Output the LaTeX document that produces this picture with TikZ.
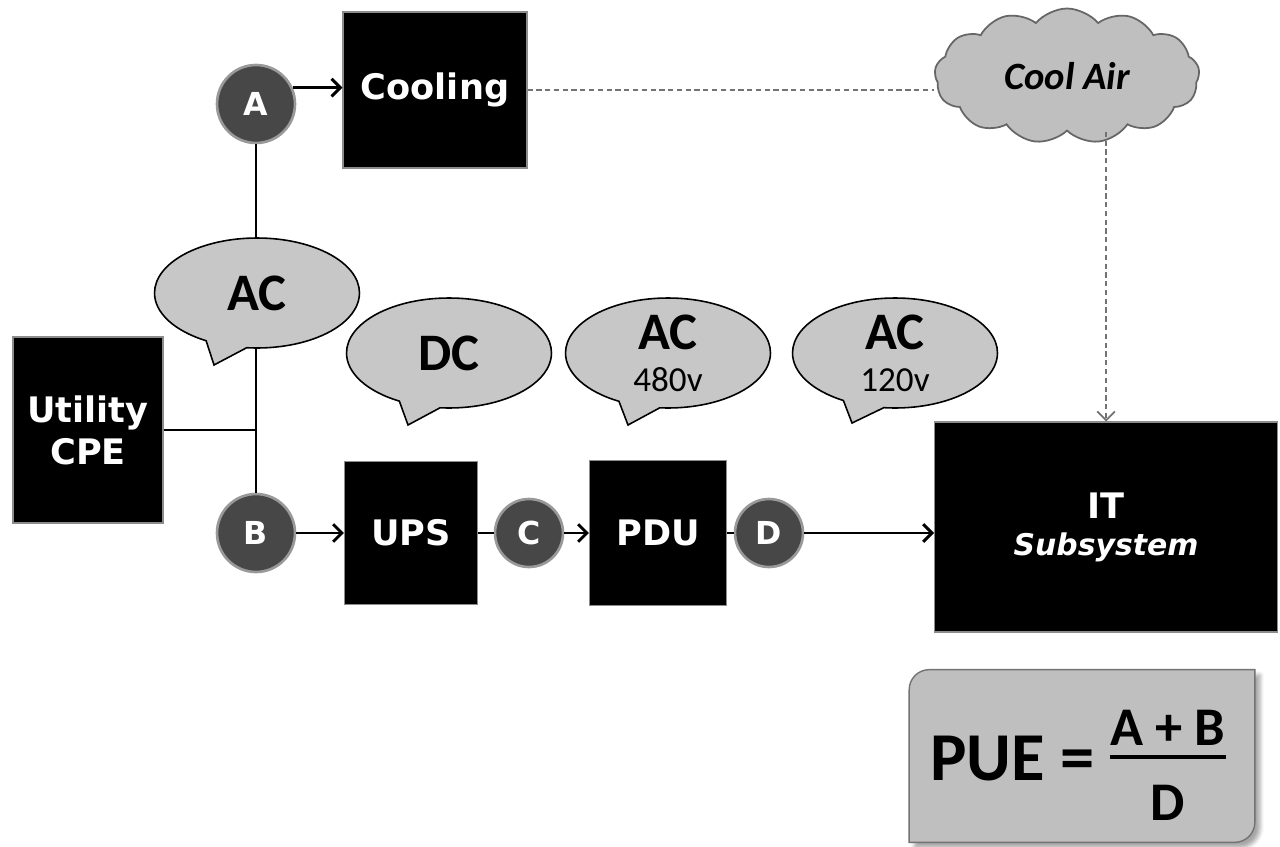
\documentclass[tikz,border=0pt]{standalone}
\usepackage{fontspec}
\setmainfont{DejaVu Sans}
\newfontfamily\calibri{Carlito}
\newcommand\voltfont{\mdseries\fontsize{20}{24}\selectfont}
\usetikzlibrary{shapes.geometric,shapes.callouts,shapes.symbols}
\usetikzlibrary{arrows.meta,calc,backgrounds,shadows.blur}

\begin{document}
\begin{tikzpicture}[x=0.02cm, y=0.02cm,
    >={Straight Barb[length=5pt, width=10pt]},
    block/.style = {fill=black, draw=black!45, line width=0.6pt, text=white,
        font=\bfseries\fontsize{20}{24}\selectfont, align=center, inner sep=0pt},
    tap/.style = {circle, fill=black!72, draw=black!40, line width=1.5pt, text=white,
        font=\bfseries\fontsize{18}{18}\selectfont, inner sep=0pt, minimum size=1.56cm},
    bubble/.style = {ellipse callout, callout pointer arc=24, fill=black!22, draw=black,
        line width=0.9pt, font=\calibri\bfseries\fontsize{30}{30}\selectfont,
        align=center, inner sep=0pt, minimum width=4.1cm, minimum height=2.2cm},
    wire/.style = {line width=1.7pt},
    airline/.style = {densely dashed, black!55, line width=1pt}
    ]
    \useasboundingbox (0,0) rectangle (1280,846);

    % boxes
    \node[block, minimum width=3.68cm, minimum height=3.12cm] (cooling) at (435,756) {Cooling};
    \node[block, minimum width=3cm, minimum height=3.72cm] (cpe) at (88,416) {Utility\\CPE};
    \node[block, minimum width=2.66cm, minimum height=2.86cm] (ups) at (411,313) {UPS};
    \node[block, minimum width=2.74cm, minimum height=2.9cm] (pdu) at (658,313) {PDU};
    \node[block, minimum width=6.86cm, minimum height=4.2cm] (it) at (1106,319)
        {IT\\[-3pt]{\itshape\fontsize{17}{20}\selectfont Subsystem}};

    % metering points
    \node[tap] (A) at (256,742) {A};
    \node[tap] (B) at (256,313) {B};
    \node[tap, minimum size=1.36cm] (C) at (529,313) {C};
    \node[tap, minimum size=1.36cm] (D) at (769,313) {D};

    % power feed
    \draw[wire] (A) -- (B);
    \draw[wire] (cpe.east) -- (cpe.east -| B);
    \draw[wire,->] (A.24) -- (A.24 -| cooling.west);
    \draw[wire,->] (B) -- (ups);
    \draw[wire] (ups) -- (C);
    \draw[wire,->] (C) -- (pdu);
    \draw[wire] (pdu) -- (D);
    \draw[wire,->] (D) -- (D -| it.west);

    % current type
    \node[bubble, callout absolute pointer={(214,481)}] (ac) at (257,553) {AC};
    \node[bubble, callout absolute pointer={(408,421)}] (dc) at (449,493) {DC};
    \node[bubble, callout absolute pointer={(628,421)}] (ac480) at (668,493)
        {AC\\[-6pt]{\voltfont 480v}};
    \node[bubble, callout absolute pointer={(852,423)}] (ac120) at (895,493)
        {AC\\[-6pt]{\voltfont 120v}};

    % cooling air
    \node[cloud, cloud puffs=13, cloud puff arc=100, aspect=2.2, fill=black!25, draw=black!60,
        line width=1pt, minimum width=5.3cm, minimum height=2.7cm,
        font=\calibri\bfseries\itshape\fontsize{22}{22}\selectfont] (air) at (1067,770) {Cool Air};
    \draw[airline] (cooling.east) -- (cooling.east -| air.west);
    \draw[airline,->] (air.south -| it.north) -- (it.north);

    % PUE formula
    \node[minimum width=6.9cm, minimum height=3.44cm, inner sep=0pt] (pue) at (1082,90) {};
    \begin{scope}[on background layer]
        \filldraw[fill=black!25, draw=black!55, line width=0.8pt,
            blur shadow={shadow xshift=3pt, shadow yshift=-3pt, shadow opacity=35}]
            ($(pue.north west)+(0,-0.4cm)$) arc[start angle=180, end angle=90, radius=0.4cm]
            -- (pue.north east) -- ($(pue.south east)+(0,0.4cm)$)
            arc[start angle=0, end angle=-90, radius=0.4cm] -- (pue.south west) -- cycle;
    \end{scope}
    \node[inner sep=0pt, font=\calibri\bfseries\fontsize{39}{42}\selectfont] (formula)
        at ($(pue)+(-4,-14)$)
        {PUE = {\fontsize{31}{18}\selectfont\setlength\arrayrulewidth{2.5pt}%
         \begin{tabular}{@{}c@{}}A + B\\\hline\rule{0pt}{35pt}D\end{tabular}}};
\end{tikzpicture}
\end{document}
